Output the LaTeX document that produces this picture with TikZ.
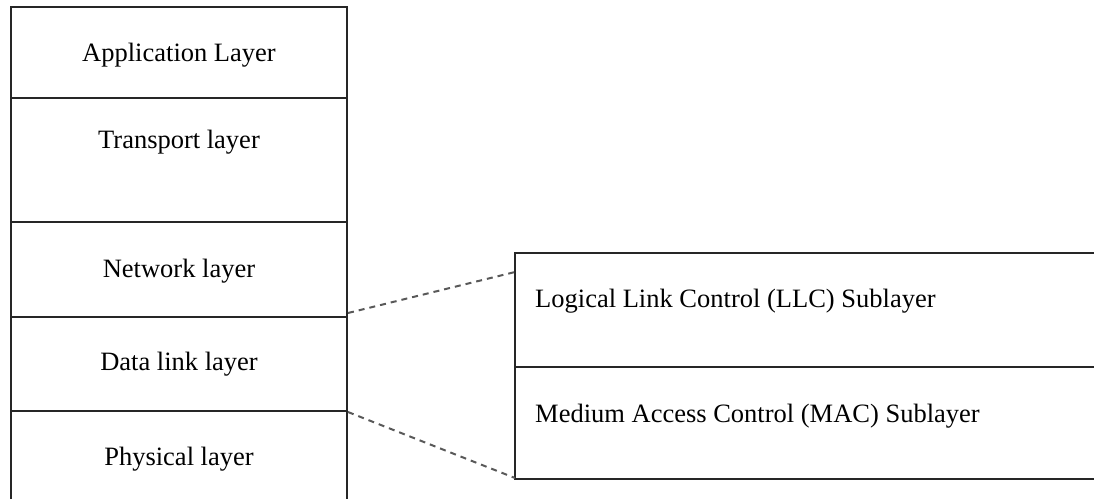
\documentclass[tikz,border=0pt]{standalone}
\usepackage{fontspec}
\setmainfont{Liberation Serif}

\begin{document}
\begin{tikzpicture}[x=1pt,y=-1pt,
                    rule/.style={line width=1.8pt, black!85},
                    link/.style={dash pattern=on 6pt off 5pt, line width=2pt, black!65},
                    lbl/.style={font=\fontsize{26.5}{30}\selectfont, inner sep=0pt}]
    \useasboundingbox (0,0) rectangle (1094,499);
    % layer stack
    \coordinate (stackTL) at (11,7);
    \coordinate (stackTR) at (347,7);
    \coordinate (stackBL) at (11,499);
    \coordinate (stackBR) at (347,499);
    \coordinate (netL) at (11,317);
    \coordinate (netR) at (347,317);
    \coordinate (dllL) at (11,411);
    \coordinate (dllR) at (347,411);
    \draw[rule] (stackBL) -- (stackTL) -- (stackTR) -- (stackBR);
    \draw[rule] (11,98) -- (347,98);
    \draw[rule] (11,222) -- (347,222);
    \draw[rule] (netL) -- (netR);
    \draw[rule] (dllL) -- (dllR);
    \node[lbl, anchor=base] (app) at (179,61) {Application Layer};
    \node[lbl, anchor=base] (trans) at (179,148) {Transport layer};
    \node[lbl, anchor=base] (net) at (179,277) {Network layer};
    \node[lbl, anchor=base] (dll) at (179,370) {Data link layer};
    \node[lbl, anchor=base] (phy) at (179,465) {Physical layer};
    % sublayers
    \coordinate (subTL) at (515,253);
    \coordinate (subTR) at (1094,253);
    \coordinate (subBL) at (515,479);
    \coordinate (subBR) at (1094,479);
    \draw[rule] (subTR) -- (subTL) -- (subBL) -- (subBR);
    \draw[rule] (515,367) -- (1094,367);
    \node[lbl, anchor=base west] (llc) at (535,307) {Logical Link Control (LLC) Sublayer};
    \node[lbl, anchor=base west] (mac) at (535,422) {Medium Access Control (MAC) Sublayer};
    % zoom lines
    \draw[link] (348,313) -- (subTL |- 0,272);
    \draw[link] (348,412) -- (subBL |- 0,478);
\end{tikzpicture}
\end{document}
